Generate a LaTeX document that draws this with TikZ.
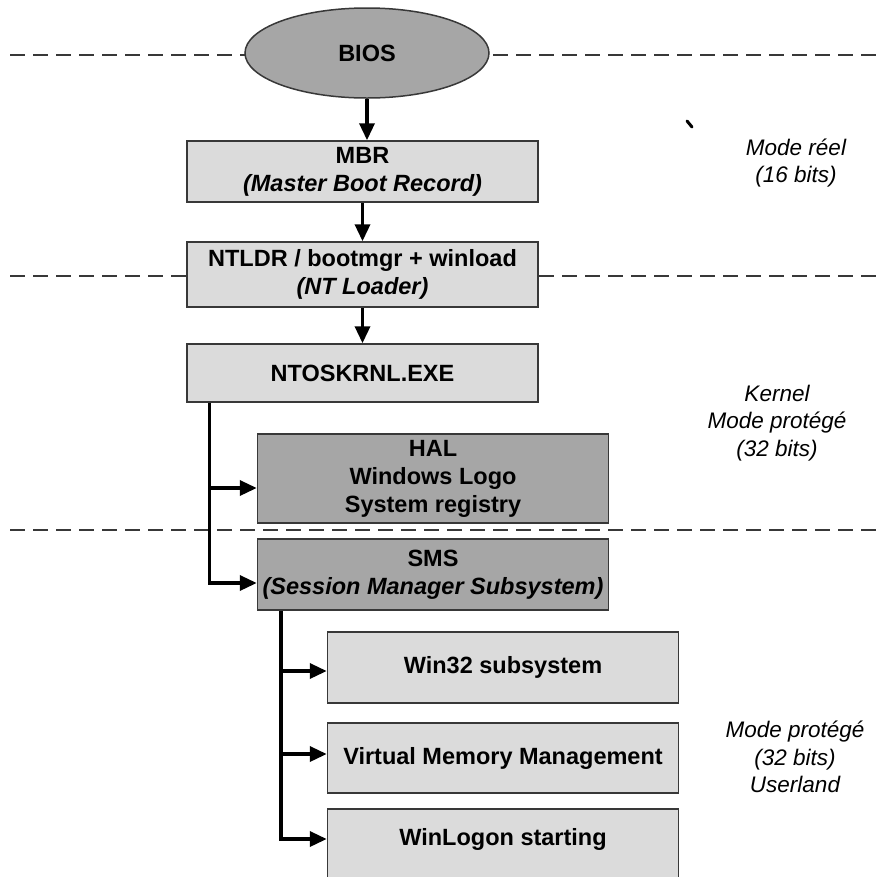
\documentclass[tikz,border=0pt]{standalone}
\usepackage{fontspec}
\setmainfont{Liberation Sans}
\usetikzlibrary{arrows.meta,shapes.geometric,calc}
\definecolor{lightbox}{gray}{0.86}
\definecolor{darkbox}{gray}{0.65}
\definecolor{edge}{gray}{0.22}
\tikzset{
  box/.style={draw=edge,line width=1.5pt,rectangle,minimum width=351pt,align=center,inner sep=0pt,
    font=\fontsize{23.5}{28}\selectfont\bfseries},
  lightb/.style={box,fill=lightbox},
  darkb/.style={box,fill=darkbox},
  arr/.style={line width=3.5pt,-{Triangle[length=17pt,width=15pt]}},
  sep/.style={draw=edge,line width=2.2pt,dash pattern=on 15pt off 8pt},
  lab/.style={align=center,inner sep=0pt,font=\fontsize{22.5}{27.5}\selectfont\itshape}
}
\begin{document}
\begin{tikzpicture}[x=1pt,y=-1pt]
\useasboundingbox (0,0) rectangle (882,876);
\clip (0,0) rectangle (882,876);
% separators
\coordinate (s1a) at (10,55);   \coordinate (s1b) at (882,55);
\coordinate (s2a) at (10,276);  \coordinate (s2b) at (882,276);
\coordinate (s3a) at (10,530);  \coordinate (s3b) at (882,530);
\draw[sep] (s1a) -- (s1b);
\draw[sep] (s2a) -- (s2b);
\draw[sep] (s3a) -- (s3b);
% nodes
\node[ellipse,draw=edge,line width=1.5pt,fill=darkbox,minimum width=244pt,minimum height=90pt,inner sep=0pt,
  font=\fontsize{23.5}{28}\selectfont\bfseries] (bios) at (367,53) {BIOS};
\node[lightb,minimum height=61pt] (mbr) at (362.5,171.5) {MBR\\\textit{(Master Boot Record)}};
\node[lightb,minimum height=65pt] (ntldr) at (362.5,274.5) {NTLDR / bootmgr + winload\\\textit{(NT Loader)}};
\node[lightb,minimum height=58pt] (ntos) at (362.5,373) {NTOSKRNL.EXE};
\node[darkb,minimum height=89pt] (hal) at (433,478.5) {HAL\\Windows Logo\\System registry};
\node[darkb,minimum height=71pt] (sms) at (433,574.5) {SMS\\\textit{(Session Manager Subsystem)}};
\node[lightb,minimum height=71pt] (win32) at (503,667.5) {Win32 subsystem};
\node[lightb,minimum height=70pt] (vmm) at (503,758) {Virtual Memory Management};
\node[lightb,minimum height=72pt] (winlogon) at (503,845) {};
\node[font=\fontsize{23.5}{28}\selectfont\bfseries,inner sep=0pt] (wltext) at (503,839) {WinLogon starting};
% labels
\node[lab] (real) at (796,163) {Mode réel\\(16 bits)};
\node[lab] (kern) at (777,423) {Kernel\\Mode protégé\\(32 bits)};
\node[lab] (user) at (795,757) {Mode protégé\\(32 bits)\\Userland};
% stray tick
\coordinate (tk1) at (687,121); \coordinate (tk2) at (692,127);
\draw[line width=3pt,line cap=round] (tk1) -- (tk2);
% connectors
\draw[arr] (bios.south) -- (bios.south |- mbr.north);
\draw[arr] (mbr.south) -- (ntldr.north);
\draw[arr] (ntldr.south) -- (ntos.north);
\coordinate (t1) at ($(ntos.south west)+(23,0)$);
\draw[arr] (t1) |- ($(hal.west)+(0,9.5)$);
\draw[arr] (t1) |- ($(sms.west)+(0,8.5)$);
\coordinate (t2) at ($(sms.south west)+(24,0)$);
\draw[arr] (t2) |- ($(win32.west)+(0,3.5)$);
\draw[arr] (t2) |- ($(vmm.west)+(0,-4)$);
\draw[arr] (t2) |- (winlogon.west |- wltext);
\end{tikzpicture}
\end{document}
